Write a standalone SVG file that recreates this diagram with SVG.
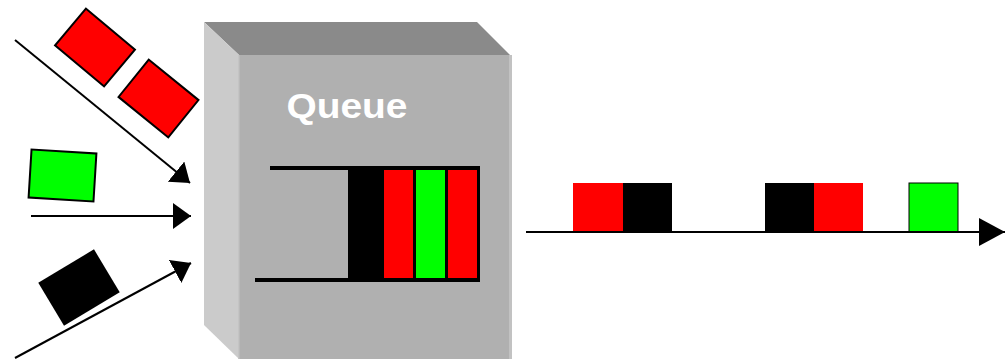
<svg xmlns="http://www.w3.org/2000/svg" width="1007" height="359" viewBox="0 0 1007 359">
  <defs>
    <marker id="head" markerUnits="userSpaceOnUse" markerWidth="18" markerHeight="26" refX="18" refY="13" orient="auto">
      <path d="M0,0 L18,13 L0,26 Z" fill="#000"/>
    </marker>
    <marker id="head-out" markerUnits="userSpaceOnUse" markerWidth="26" markerHeight="28" refX="26" refY="14" orient="auto">
      <path d="M0,0 L26,14 L0,28 Z" fill="#000"/>
    </marker>
  </defs>
  <style>
    .pkt { stroke: #000; stroke-width: 2; }
    .red { fill: #ff0000; }
    .green { fill: #00ff00; }
    .black { fill: #000; }
    .flow { stroke: #000; stroke-width: 2; fill: none; }
    .label { font-family: "Liberation Sans", Arial, sans-serif; font-weight: bold; fill: #fff; }
  </style>
  <rect width="1007" height="359" fill="#fff"/>

  <!-- incoming packets -->
  <g id="packet-red-1"><rect class="pkt red" x="-32" y="-24" width="64" height="48" transform="translate(95,47.5) rotate(40)"/></g>
  <g id="packet-red-2"><rect class="pkt red" x="-32" y="-24" width="64" height="48" transform="translate(158.5,98.5) rotate(39)"/></g>
  <g id="packet-green"><rect class="pkt green" x="-32.5" y="-24" width="65" height="48" transform="translate(62.5,175.5) rotate(3.5)"/></g>
  <g id="packet-black"><rect class="black" x="-32.5" y="-25" width="65" height="50" transform="translate(79,287.5) rotate(-31)"/></g>

  <!-- queue box -->
  <g id="queue">
    <polygon points="204,22 477,22 510,55 239,55" fill="#8a8a8a"/>
    <polygon points="204,22 239,55 239,359 204,325" fill="#cbcbcb"/>
    <rect x="239" y="55" width="271" height="304" fill="#b0b0b0"/>
    <rect x="509" y="55" width="3" height="304" fill="#c2c2c2"/>
    <rect x="238" y="55" width="1.5" height="304" fill="#c4c4c4"/>
    <text class="label" x="286.5" y="117.5" font-size="35" textLength="121" lengthAdjust="spacingAndGlyphs">Queue</text>
    <!-- buffer -->
    <line x1="270" y1="168" x2="350" y2="168" stroke="#000" stroke-width="4"/>
    <line x1="255" y1="280" x2="350" y2="280" stroke="#000" stroke-width="4"/>
    <rect x="348" y="166" width="132" height="116" fill="#000"/>
    <rect x="384" y="170" width="29" height="108" fill="#ff0000"/>
    <rect x="416" y="170" width="29" height="108" fill="#00ff00"/>
    <rect x="448" y="170" width="29" height="108" fill="#ff0000"/>
  </g>

  <!-- outgoing packets -->
  <g id="out-1">
    <rect x="573" y="183" width="50" height="49" fill="#ff0000"/>
    <rect x="623" y="183" width="49" height="49" fill="#000"/>
  </g>
  <g id="out-2">
    <rect x="765" y="183" width="49" height="49" fill="#000"/>
    <rect x="814" y="183" width="49" height="49" fill="#ff0000"/>
  </g>
  <g id="out-3">
    <rect x="909" y="183" width="49" height="49" fill="#00ff00" stroke="#000" stroke-width="1"/>
  </g>

  <!-- connectors -->
  <g id="connectors">
    <line class="flow" x1="15" y1="40" x2="190" y2="183" marker-end="url(#head)"/>
    <line class="flow" x1="31" y1="216" x2="191" y2="216" marker-end="url(#head)"/>
    <line class="flow" x1="15" y1="358" x2="191" y2="263" marker-end="url(#head)"/>
    <line class="flow" x1="526" y1="232" x2="1005" y2="232" stroke-width="2.5" marker-end="url(#head-out)"/>
  </g>
</svg>
